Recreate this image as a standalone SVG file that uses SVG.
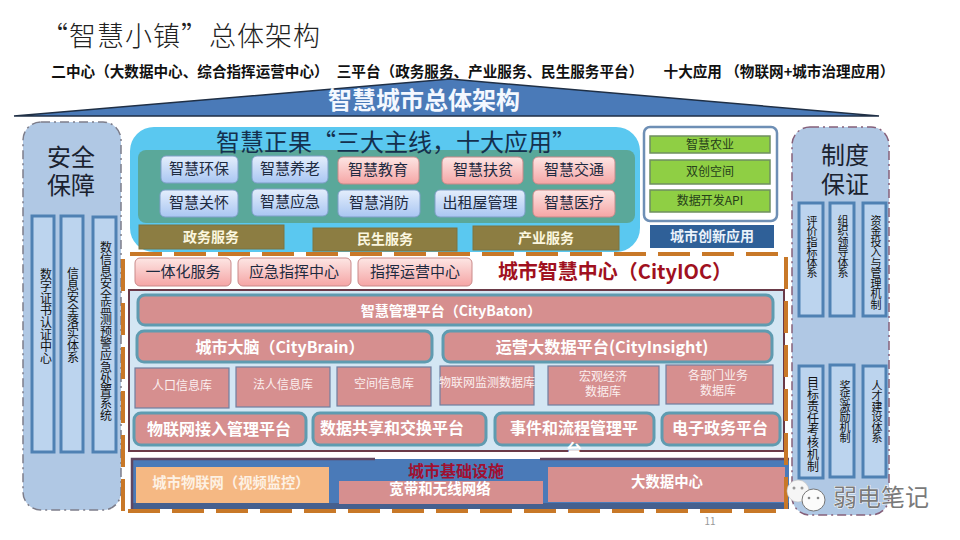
<svg xmlns="http://www.w3.org/2000/svg" width="960" height="540" viewBox="0 0 960 540">
<style>
text{font-family:"Noto Sans CJK SC","Liberation Sans",sans-serif;text-anchor:middle}
text.vt{writing-mode:vertical-rl;text-orientation:upright;fill:#111;text-anchor:start}
.vl{font-size:12px}
.vs{font-size:11px;letter-spacing:-0.5px}
.col{fill:#bcd4ee;stroke:#4f81b3;stroke-width:3}
.side{fill:#b0c8e4;stroke:#7d7d8a;stroke-width:1.5;stroke-dasharray:9 4 2 4}
.btnb{fill:url(#gb);stroke:#7f9fc8;stroke-width:1}
.btnr{fill:url(#gr);stroke:#c98a8a;stroke-width:1}
.bt{font-size:15px;fill:#1d2a40}
.ol{fill:#8c7d42;stroke:#7c7440}
.olt{font-size:14px;font-weight:700;fill:#fbf6df}
.gn{fill:#8fcf44;stroke:#6f8f60;stroke-width:1.5}
.gt{font-size:12px;fill:#26401a}
.bar{fill:#d68f8f;stroke:#5f9bb0;stroke-width:3}
.wt{fill:#fff;font-weight:700}
.db{fill:#d68f8f;stroke:#6f7fa0;stroke-width:1.2}
.dt{font-size:12px;fill:#fbeeee}
.dash{fill:none;stroke:#c87828;stroke-width:4;stroke-dasharray:32 12}
</style>
<defs>
<linearGradient id="gb" x1="0" y1="0" x2="0" y2="1"><stop offset="0" stop-color="#e4eefc"/><stop offset="1" stop-color="#a9c6f2"/></linearGradient>
<linearGradient id="gr" x1="0" y1="0" x2="0" y2="1"><stop offset="0" stop-color="#fde6e4"/><stop offset="1" stop-color="#f5a5a5"/></linearGradient>
</defs>
<rect width="960" height="540" fill="#fff"/>
<g id="title">
<text x="181" y="46" font-size="27" font-weight="300" letter-spacing="1" fill="#222">“智慧小镇”总体架构</text>
<g font-size="14.6" font-weight="700" fill="#111">
<text x="190" y="77">二中心（大数据中心、综合指挥运营中心）</text>
<text x="490" y="77">三平台（政务服务、产业服务、民生服务平台）</text>
<text x="779" y="77">十大应用 （物联网+城市治理应用）</text>
</g>
</g>
<g id="roof">
<polygon points="14,116 450,79 879,116" fill="#4a7ab8"/>
<path d="M14,116 L450,79 L879,116 Z" fill="none" stroke="#1f2f45" stroke-width="1.5"/>
<text x="424" y="109" font-size="24" font-weight="700" fill="#f4f8ff">智慧城市总体架构</text>
</g>
<g id="security">
<rect class="side" x="23" y="122" width="98" height="388" rx="18"/>
<text x="71" y="166" font-size="24" fill="#1a2230">安全</text>
<text x="71" y="194" font-size="24" fill="#1a2230">保障</text>
<rect class="col" x="32" y="216" width="22" height="236"/>
<rect class="col" x="61" y="216" width="22" height="236"/>
<rect class="col" x="93" y="217" width="23" height="235"/>
<text class="vt vl" x="46" y="268">数字证书认证中心</text>
<text class="vt vl" x="73" y="267">信息安全落实体系</text>
<text class="vt vl" x="106" y="241">数信息安全监测预警应急处置系统</text>
</g>
<g id="guarantee">
<rect class="side" x="792" y="127" width="97" height="388" rx="18" style="stroke:#85607a"/>
<text x="845" y="164" font-size="24" fill="#1a2230">制度</text>
<text x="845" y="193" font-size="24" fill="#1a2230">保证</text>
<rect class="col" x="799" y="203" width="24" height="113"/>
<rect class="col" x="830" y="203" width="24" height="113"/>
<rect class="col" x="863" y="203" width="23" height="113"/>
<rect class="col" x="799" y="366" width="24" height="112"/>
<rect class="col" x="830" y="365" width="24" height="112"/>
<rect class="col" x="863" y="366" width="23" height="111"/>
<text class="vt vs" x="812" y="215">评价指标体系</text>
<text class="vt vs" x="843" y="215">组织领导体系</text>
<text class="vt vs" x="876" y="215">资金投入与管理机制</text>
<text class="vt vl" x="813" y="376">目标责任考核机制</text>
<text class="vt vs" x="845" y="380">奖惩激励机制</text>
<text class="vt vs" x="877" y="380">人才建设体系</text>
</g>
<g id="apps">
<rect x="130" y="127" width="510" height="125" rx="24" fill="#5ac8f0"/>
<rect x="138" y="150" width="497" height="73" rx="8" fill="#5aa89a"/>
<text x="396" y="151" font-size="24" fill="#14304e">智慧正果“三大主线，十大应用”</text>
</g>
<g id="app-buttons">
<rect class="btnb" x="161" y="156" width="77" height="27" rx="5"/><text class="bt" x="199" y="174">智慧环保</text>
<rect class="btnb" x="252" y="156" width="76" height="27" rx="5"/><text class="bt" x="290" y="174">智慧养老</text>
<rect class="btnr" x="338" y="157" width="81" height="27" rx="5"/><text class="bt" x="378" y="175">智慧教育</text>
<rect class="btnr" x="442" y="157" width="81" height="27" rx="5"/><text class="bt" x="483" y="175">智慧扶贫</text>
<rect class="btnr" x="533" y="157" width="82" height="27" rx="5"/><text class="bt" x="574" y="175">智慧交通</text>
<rect class="btnb" x="160" y="190" width="78" height="27" rx="5"/><text class="bt" x="199" y="208">智慧关怀</text>
<rect class="btnb" x="252" y="189" width="76" height="27" rx="5"/><text class="bt" x="290" y="207">智慧应急</text>
<rect class="btnb" x="338" y="190" width="82" height="27" rx="5"/><text class="bt" x="379" y="208">智慧消防</text>
<rect class="btnb" x="435" y="190" width="90" height="27" rx="5"/><text class="bt" x="480" y="208">出租屋管理</text>
<rect class="btnr" x="533" y="190" width="82" height="27" rx="5"/><text class="bt" x="574" y="208">智慧医疗</text>
</g>
<g id="services">
<rect class="ol" x="139" y="225" width="145" height="24"/><text class="olt" x="211" y="242">政务服务</text>
<rect class="ol" x="313" y="228" width="144" height="23"/><text class="olt" x="385" y="244">民生服务</text>
<rect class="ol" x="473" y="226" width="146" height="24"/><text class="olt" x="546" y="243">产业服务</text>
</g>
<g id="innovation">
<rect x="644" y="127" width="133" height="94" rx="6" fill="#fff" stroke="#6e8fb5" stroke-width="2.5"/>
<rect class="gn" x="650" y="136" width="120" height="17"/><text class="gt" x="710" y="149">智慧农业</text>
<rect class="gn" x="650" y="160" width="120" height="24"/><text class="gt" x="710" y="176">双创空间</text>
<rect class="gn" x="650" y="190" width="120" height="22"/><text class="gt" x="710" y="205">数据开发API</text>
<rect x="650" y="225" width="124" height="23" fill="#2f6098"/><text x="712" y="241" font-size="14" font-weight="700" fill="#eaf2fb">城市创新应用</text>
</g>
<g id="ioc">
<rect x="135" y="258" width="96" height="28" rx="5" class="btnr"/><text class="bt" x="183" y="277">一体化服务</text>
<rect x="238" y="258" width="113" height="28" rx="5" class="btnr"/><text class="bt" x="294" y="277">应急指挥中心</text>
<rect x="358" y="258" width="114" height="28" rx="5" class="btnr"/><text class="bt" x="415" y="277">指挥运营中心</text>
<text x="615" y="279" font-size="20" font-weight="700" fill="#a01020">城市智慧中心（CityIOC）</text>
</g>
<g id="platform">
<rect x="129" y="290" width="655" height="161" fill="#d3e6f3" stroke="#6a3a48" stroke-width="2"/>
<rect class="bar" x="138" y="295" width="635" height="30" rx="7"/><text class="wt" x="451" y="316" font-size="14">智慧管理平台（CityBaton）</text>
<rect class="bar" x="137" y="331" width="295" height="31" rx="7"/><text class="wt" x="280" y="353" font-size="16">城市大脑（CityBrain）</text>
<rect class="bar" x="443" y="331" width="329" height="31" rx="7"/><text class="wt" x="602" y="353" font-size="16.2">运营大数据平台(CityInsight)</text>
<rect class="db" x="135" y="368" width="94" height="40"/><text class="dt" x="182" y="390">人口信息库</text>
<rect class="db" x="236" y="367" width="94" height="40"/><text class="dt" x="283" y="389">法人信息库</text>
<rect class="db" x="337" y="367" width="94" height="39"/><text class="dt" x="384" y="388">空间信息库</text>
<rect class="db" x="440" y="366" width="94" height="39"/><text class="dt" x="487" y="387">物联网监测数据库</text>
<rect class="db" x="548" y="366" width="111" height="39"/><text class="dt" x="603" y="381">宏观经济</text><text class="dt" x="603" y="396">数据库</text>
<rect class="db" x="666" y="365" width="107" height="39"/><text class="dt" x="718" y="380">各部门业务</text><text class="dt" x="718" y="395">数据库</text>
<rect class="bar" x="134" y="413" width="172" height="32" rx="7"/><text class="wt" x="219" y="435" font-size="16">物联网接入管理平台</text>
<rect class="bar" x="313" y="413" width="173" height="32" rx="7"/><text class="wt" x="392" y="434" font-size="16">数据共享和交换平台</text>
<rect class="bar" x="495" y="413" width="159" height="32" rx="7"/><text class="wt" x="574" y="434" font-size="16">事件和流程管理平</text>
<text x="574" y="456" font-size="16" font-weight="700" fill="#fff">台</text>
<rect class="bar" x="662" y="413" width="118" height="32" rx="7"/><text class="wt" x="720" y="434" font-size="16">电子政务平台</text>
</g>
<g id="infrastructure">
<rect x="132" y="459" width="657" height="50" fill="#4a7ab8"/>
<rect x="132" y="503" width="657" height="6" fill="#45608f"/>
<path d="M375,459 H132 V509 M540,459 H789" fill="none" stroke="#5f4660" stroke-width="2.5"/>
<rect x="136" y="467" width="193" height="36" fill="#f5b883"/>
<text x="231" y="488" font-size="14.3" font-weight="700" fill="#fdf1e4">城市物联网（视频监控）</text>
<rect x="339" y="481" width="204" height="23" fill="#d68f8f"/>
<text x="456" y="477" font-size="16" font-weight="700" fill="#a01030">城市基础设施</text>
<text x="440" y="494" font-size="14.5" font-weight="700" fill="#fff">宽带和无线网络</text>
<rect x="548" y="467" width="237" height="35" fill="#d68f8f"/>
<text x="667" y="487" font-size="14.4" font-weight="700" fill="#fff">大数据中心</text>
</g>
<g id="connectors">
<path class="dash" d="M130,254 H780"/>
<path class="dash" d="M128,511 H785"/>
<path class="dash" d="M123,511 V258"/>
<path class="dash" d="M786,257 V510"/>
</g>
<g id="page"><text x="710" y="525" font-size="10" fill="#999">11</text></g>
<g id="watermark">
<ellipse cx="798" cy="491" rx="11" ry="11" fill="#f6f6f6" stroke="#bdbdbd" stroke-width="0.6"/>
<ellipse cx="813.500" cy="500" rx="11.500" ry="11" fill="#fbfbfb" stroke="#777" stroke-width="1"/>
<circle cx="794" cy="488" r="1.500" fill="#999"/><circle cx="802" cy="488" r="1.500" fill="#999"/>
<circle cx="809" cy="498" r="1.300" fill="#888"/><circle cx="818" cy="498" r="1.300" fill="#888"/>
<text x="881" y="506" font-size="24" fill="#7a7a7a" stroke="#fff" stroke-width="1" paint-order="stroke">弱电笔记</text>
</g>
</svg>
